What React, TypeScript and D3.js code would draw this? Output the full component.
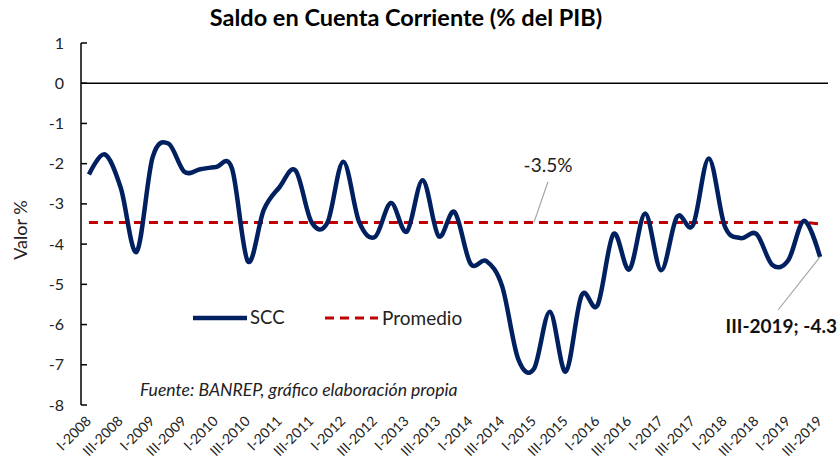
import * as d3 from "d3";

// Saldo en cuenta corriente, trimestral I-2008 .. III-2019 (% del PIB)
const scc = [
  -2.27, -1.77, -2.6, -4.19, -1.85, -1.5, -2.2, -2.14, -2.08, -2.12,
  -4.43, -3.15, -2.58, -2.17, -3.45, -3.47, -1.95, -3.45, -3.82, -2.98,
  -3.69, -2.41, -3.8, -3.2, -4.48, -4.42, -5.05, -6.85, -7.1, -5.68,
  -7.17, -5.27, -5.52, -3.75, -4.63, -3.24, -4.65, -3.32, -3.53, -1.87,
  -3.55, -3.85, -3.75, -4.52, -4.4, -3.42, -4.32,
];

const promedio = [
  -3.46, -3.46, -3.46, -3.46, -3.46, -3.46, -3.46, -3.46, -3.46, -3.46,
  -3.46, -3.46, -3.46, -3.46, -3.46, -3.46, -3.46, -3.46, -3.46, -3.46,
  -3.46, -3.46, -3.46, -3.46, -3.46, -3.46, -3.46, -3.46, -3.46, -3.46,
  -3.46, -3.46, -3.46, -3.46, -3.46, -3.46, -3.46, -3.46, -3.46, -3.46,
  -3.46, -3.46, -3.46, -3.46, -3.46, -3.46, -3.5,
];

// etiquetas cada dos trimestres
const tickLabels = [
  "I-2008", "III-2008", "I-2009", "III-2009", "I-2010", "III-2010",
  "I-2011", "III-2011", "I-2012", "III-2012", "I-2013", "III-2013",
  "I-2014", "III-2014", "I-2015", "III-2015", "I-2016", "III-2016",
  "I-2017", "III-2017", "I-2018", "III-2018", "I-2019", "III-2019",
];

const yTicks = [1, 0, -1, -2, -3, -4, -5, -6, -7, -8];

const W = 838;
const H = 460;
const m = { left: 81, right: 10, top: 43, bottom: 55 };
const font = "Lato, 'Open Sans', sans-serif";
const navy = "#002060";
const red = "#C00000";

export default function App() {
  const idx = scc.map((_, i) => i);
  const x = d3.scalePoint<number>().domain(idx).range([m.left, W - m.right]).padding(0.5);
  const y = d3.scaleLinear().domain([-8, 1]).range([H - m.bottom, m.top]);

  const line = d3
    .line<number>()
    .x((_, i) => x(i)!)
    .y((d) => y(d))
    .curve(d3.curveCardinal.tension(0));

  const lastI = scc.length - 1;
  const lastX = x(lastI)!;
  const lastY = y(scc[lastI]);
  const avgX = x(28)!;
  const avgY = y(promedio[28]);

  return (
    <svg
      width={W}
      height={H}
      style={{ position: "absolute", left: 0, top: 0, background: "#fff" }}
      fontFamily={font}
    >
      <text x={406} y={26} textAnchor="middle" fontSize={23.5} fontWeight="bold" fill="#000">
        Saldo en Cuenta Corriente (% del PIB)
      </text>

      {/* eje y */}
      <line x1={m.left} x2={m.left} y1={y(1)} y2={y(-8)} stroke="#000" strokeWidth={1.5} />
      {yTicks.map((t) => (
        <g key={t}>
          <line x1={m.left} x2={m.left + 6} y1={y(t)} y2={y(t)} stroke="#000" strokeWidth={1.5} />
          <text x={64} y={y(t)} dy="0.35em" textAnchor="end" fontSize={16} fill="#222">
            {t}
          </text>
        </g>
      ))}
      <text
        transform={`translate(27, ${y(-3.65)}) rotate(-90)`}
        textAnchor="middle"
        fontSize={18}
        fill="#222"
      >
        Valor %
      </text>

      {/* linea cero */}
      <line x1={m.left} x2={W - m.right} y1={y(0)} y2={y(0)} stroke="#000" strokeWidth={1.5} />

      {/* etiquetas x */}
      {tickLabels.map((lab, k) => {
        const px = x(k * 2)! + 3;
        return (
          <text
            key={lab}
            transform={`translate(${px}, 422) rotate(-45)`}
            textAnchor="end"
            fontSize={14}
            fill="#222"
          >
            {lab}
          </text>
        );
      })}

      {/* promedio */}
      <path
        d={line(promedio) ?? ""}
        fill="none"
        stroke={red}
        strokeWidth={3}
        strokeDasharray="9 6"
      />
      {/* SCC */}
      <path d={line(scc) ?? ""} fill="none" stroke={navy} strokeWidth={4.5} strokeLinejoin="round" />

      {/* anotaciones */}
      <line x1={avgX} y1={avgY} x2={avgX + 14} y2={y(-2.45)} stroke="#A6A6A6" strokeWidth={1.2} />
      <text x={548} y={172} textAnchor="middle" fontSize={19} fill="#222">
        -3.5%
      </text>
      <line x1={lastX} y1={lastY} x2={lastX - 42} y2={310} stroke="#A6A6A6" strokeWidth={1.2} />
      <text x={837} y={333} textAnchor="end" fontSize={19} fontWeight="bold" fill="#111">
        III-2019; -4.3
      </text>

      {/* leyenda */}
      <line x1={193} x2={247} y1={318} y2={318} stroke={navy} strokeWidth={4.5} />
      <text x={250} y={318} dy="0.35em" fontSize={18.5} fill="#222">
        SCC
      </text>
      <line x1={325} x2={378} y1={318} y2={318} stroke={red} strokeWidth={3} strokeDasharray="9 6" />
      <text x={382} y={318} dy="0.35em" fontSize={19} fill="#222">
        Promedio
      </text>

      <text x={140} y={396} fontSize={17.6} fontStyle="italic" fill="#222">
        Fuente: BANREP, gráfico elaboración propia
      </text>
    </svg>
  );
}
